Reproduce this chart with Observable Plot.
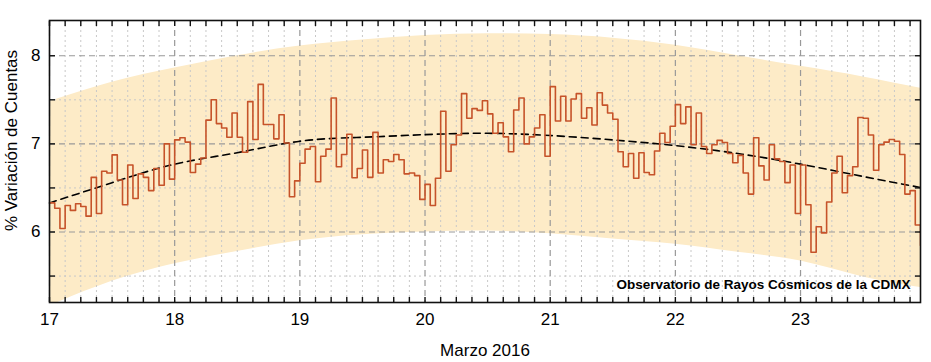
<!DOCTYPE html>
<html>
<head>
<meta charset="utf-8">
<script src="https://cdn.jsdelivr.net/npm/d3@7"></script>
<script src="https://cdn.jsdelivr.net/npm/@observablehq/plot@0.6"></script>
<style>
  html, body { margin: 0; padding: 0; background: #fff; }
  #chart { width: 931px; height: 362px; }
</style>
</head>
<body>
<div id="chart"></div>
<script>
// ---- Data (hourly % variation) ----
const dayTicks = [17, 18, 19, 20, 21, 22, 23];
const yMajor = [6, 7, 8];
const yMinor = [5.5, 6.5, 7.5];

const march17 = [6.33, 6.27, 6.04, 6.30, 6.245, 6.32, 6.29, 6.18, 6.62, 6.21, 6.69, 6.67, 6.875, 6.59, 6.31, 6.76, 6.38, 6.66, 6.62, 6.47, 6.72, 6.53, 7.00, 6.60];
const march18 = [7.045, 7.07, 7.02, 6.675, 6.77, 6.84, 7.27, 7.50, 7.23, 7.18, 7.075, 7.35, 7.075, 6.905, 7.48, 7.05, 7.675, 7.22, 7.22, 7.057, 7.33, 7.01, 6.40, 6.58];
const march19 = [6.78, 6.94, 6.97, 6.57, 6.86, 6.94, 7.52, 6.74, 6.88, 7.11, 6.615, 6.72, 6.93, 6.62, 7.13, 6.67, 6.82, 6.80, 6.88, 6.82, 6.66, 6.67, 6.64, 6.37];
const march20 = [6.54, 6.30, 6.61, 7.37, 6.69, 6.99, 7.10, 7.57, 7.29, 7.40, 7.38, 7.49, 7.34, 7.12, 7.24, 7.08, 6.91, 7.385, 7.52, 7.00, 7.08, 7.18, 7.33, 6.86];
const march21 = [7.65, 7.26, 7.54, 7.26, 7.51, 7.57, 7.29, 7.41, 7.215, 7.58, 7.44, 7.35, 7.28, 6.91, 6.74, 6.89, 6.61, 6.90, 6.675, 6.65, 6.92, 7.12, 7.015, 7.20];
const march22 = [7.445, 7.23, 7.42, 6.99, 7.35, 6.97, 6.89, 6.99, 7.04, 7.015, 6.89, 6.785, 6.87, 6.67, 6.43, 7.07, 6.75, 6.59, 6.99, 6.83, 6.80, 6.56, 6.76, 6.21];
const march23 = [6.76, 6.31, 5.77, 6.06, 5.99, 6.34, 6.67, 6.86, 6.445, 6.64, 6.74, 7.30, 7.29, 7.10, 6.70, 6.99, 7.02, 7.05, 7.03, 6.88, 6.43, 6.47, 6.08, 5.85];

// Trend (dashed) and band, read at half-day points
const curveDays  = [17, 17.5, 18, 18.5, 19, 19.5, 20, 20.5, 21, 21.5, 22, 22.5, 23, 23.5, 23.9583];
const trendVals  = [6.33, 6.56, 6.77, 6.90, 7.03, 7.075, 7.105, 7.12, 7.095, 7.045, 6.98, 6.89, 6.77, 6.63, 6.505];
const bandUpper  = [7.48, 7.70, 7.86, 8.00, 8.11, 8.18, 8.23, 8.25, 8.24, 8.20, 8.12, 8.00, 7.88, 7.76, 7.63];
const bandLower  = [5.16, 5.44, 5.64, 5.78, 5.90, 5.97, 6.00, 6.01, 5.98, 5.92, 5.86, 5.77, 5.67, 5.49, 5.37];

const yLabel = "% Variación de Cuentas";
const xLabel = "Marzo 2016";
const note = "Observatorio de Rayos Cósmicos de la CDMX";

// ---- Build tables ----
const allValues = [march17, march18, march19, march20, march21, march22, march23].flat();
const rows = allValues.map((v, i) => ({t: 17 + i / 24, v}));
const band = curveDays.map((t, i) => ({t, lo: bandLower[i], hi: bandUpper[i]}));
const trend = curveDays.map((t, i) => ({t, y: trendVals[i]}));
const xEnd = 17 + (allValues.length - 1) / 24;
const x3h = d3.range(0, 56).map(k => 17 + k / 8);
const xMinor = x3h.filter((d, k) => k % 8 !== 0);
const yTicksAll = [5.5, 6, 6.5, 7, 7.5, 8];

const font = "'Liberation Sans', Arial, Helvetica, sans-serif";

const chart = Plot.plot({
  width: 931,
  height: 362,
  marginLeft: 49,
  marginRight: 11,
  marginTop: 20,
  marginBottom: 60,
  style: {fontFamily: font, fontSize: "17px", color: "#000", background: "#fff", overflow: "visible"},
  x: {domain: [17, xEnd]},
  y: {domain: [5.2, 8.4]},
  marks: [
    Plot.areaY(band, {x: "t", y1: "lo", y2: "hi", fill: "#fdebc7", curve: "natural", clip: true}),
    Plot.gridX(xMinor, {stroke: "#c8c8c8", strokeOpacity: 1, strokeDasharray: "2,3", strokeWidth: 1}),
    Plot.gridY(yMinor, {stroke: "#c8c8c8", strokeOpacity: 1, strokeDasharray: "2,3", strokeWidth: 1}),
    Plot.gridX(dayTicks, {stroke: "#999", strokeOpacity: 1, strokeDasharray: "6,4", strokeWidth: 1.2}),
    Plot.gridY(yMajor, {stroke: "#999", strokeOpacity: 1, strokeDasharray: "6,4", strokeWidth: 1.2}),
    Plot.line(trend, {x: "t", y: "y", curve: "natural", stroke: "#000", strokeWidth: 1.6, strokeDasharray: "7,5"}),
    Plot.line(rows, {x: "t", y: "v", curve: "step-after", stroke: "#c6532a", strokeWidth: 1.6, clip: true}),
    Plot.frame({stroke: "#111", strokeWidth: 1.6}),
    // inward ticks on all four sides
    Plot.axisX(x3h, {anchor: "bottom", tickSize: -5, fill: "none", stroke: "#111", strokeWidth: 1.4}),
    Plot.axisX(x3h, {anchor: "top", tickSize: -5, fill: "none", stroke: "#111", strokeWidth: 1.4}),
    Plot.axisY(yTicksAll, {anchor: "left", tickSize: -6, fill: "none", stroke: "#111", strokeWidth: 1.4}),
    Plot.axisY(yTicksAll, {anchor: "right", tickSize: -6, fill: "none", stroke: "#111", strokeWidth: 1.4}),
    // tick labels
    Plot.axisX(dayTicks, {anchor: "bottom", tickSize: 0, tickPadding: 10, tickFormat: d => String(d), label: null, fontSize: 17}),
    Plot.axisY(yMajor, {anchor: "left", tickSize: 0, tickPadding: 9, tickFormat: d => String(d), label: null, fontSize: 17}),
    // labels
    Plot.text([yLabel], {frameAnchor: "left", textAnchor: "middle", lineAnchor: "middle", rotate: -90, dx: -38, dy: -21, fontSize: 17, fill: "#000"}),
    Plot.text([xLabel], {frameAnchor: "bottom", textAnchor: "middle", lineAnchor: "middle", dy: 48, fontSize: 17, fill: "#000"}),
    Plot.text([note], {frameAnchor: "bottom-right", textAnchor: "end", lineAnchor: "bottom", dx: -10, dy: -14, fontSize: 13.5, fontWeight: "bold", fill: "#000"})
  ]
});
document.getElementById("chart").appendChild(chart);
</script>
</body>
</html>
